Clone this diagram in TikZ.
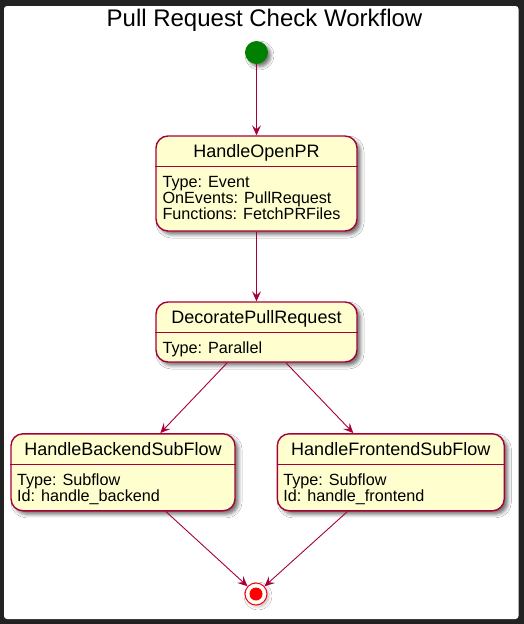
\documentclass[tikz,border=0pt]{standalone}
\usepackage{fontspec}
\setmainfont{Liberation Sans}
\usetikzlibrary{arrows.meta, shadows.blur}
\definecolor{umlred}{HTML}{A80036}
\definecolor{umlfill}{HTML}{FEFECE}
\definecolor{umlgreen}{HTML}{008000}
\definecolor{framegray}{RGB}{34,34,34}
\tikzstyle{state} = [rectangle, rounded corners=12pt, draw=umlred, line width=1.4pt, fill=umlfill, inner sep=0pt, blur shadow={shadow xshift=3.5pt, shadow yshift=-3.5pt, shadow blur radius=3.5pt, shadow opacity=55}]
\tikzstyle{statename} = [inner sep=0pt, anchor=base, font=\fontsize{18}{20}\selectfont]
\tikzstyle{statebody} = [inner sep=0pt, anchor=north west, align=left, font=\fontsize{16.2}{16}\selectfont]
\tikzstyle{sep} = [draw=umlred, line width=1.2pt]
\tikzstyle{arrow} = [draw=umlred, line width=0.9pt, -{Stealth[length=10pt, width=9pt, inset=4pt]}]

\begin{document}
\begin{tikzpicture}[x=1pt, y=-1pt]

\useasboundingbox (0,0) rectangle (524,624);
\fill[framegray] (0,0) rectangle (524,624);
\fill[white, rounded corners=3pt] (4,6) rectangle (518.5,619);

%% NODES

\node (title) [anchor=base, inner sep=0pt, font=\fontsize{24}{28}\selectfont] at (264.5,26) {Pull Request Check Workflow};

\node (start) [circle, fill=umlgreen, minimum size=23pt, inner sep=0pt, blur shadow={shadow xshift=3pt, shadow yshift=-3pt, shadow blur radius=3pt, shadow opacity=50}] at (256.5,52.5) {};

\node (open) [state, minimum width=201pt, minimum height=95pt] at (256.5,183.5) {};
\node (open_name) [statename] at ([yshift=-22pt]open.north) {HandleOpenPR};
\draw [sep] ([yshift=-31.5pt]open.north west) -- ([yshift=-31.5pt]open.north east);
\node (open_body) [statebody] at ([xshift=7pt, yshift=-40.5pt]open.north west) {Type: Event\\OnEvents: PullRequest\\Functions: FetchPRFiles};

\node (decorate) [state, minimum width=201pt, minimum height=60pt] at (256.5,332) {};
\node (decorate_name) [statename] at ([yshift=-22pt]decorate.north) {DecoratePullRequest};
\draw [sep] ([yshift=-31.5pt]decorate.north west) -- ([yshift=-31.5pt]decorate.north east);
\node (decorate_body) [statebody] at ([xshift=7pt, yshift=-40.5pt]decorate.north west) {Type: Parallel};

\node (backend) [state, minimum width=224pt, minimum height=77pt] at (123,472.3) {};
\node (backend_name) [statename] at ([yshift=-22pt]backend.north) {HandleBackendSubFlow};
\draw [sep] ([yshift=-31.5pt]backend.north west) -- ([yshift=-31.5pt]backend.north east);
\node (backend_body) [statebody] at ([xshift=6.5pt, yshift=-40.5pt]backend.north west) {Type: Subflow\\Id: handle\_backend};

\node (frontend) [state, minimum width=227pt, minimum height=77pt] at (390.8,472.3) {};
\node (frontend_name) [statename] at ([yshift=-22pt]frontend.north) {HandleFrontendSubFlow};
\draw [sep] ([yshift=-31.5pt]frontend.north west) -- ([yshift=-31.5pt]frontend.north east);
\node (frontend_body) [statebody] at ([xshift=6.5pt, yshift=-40.5pt]frontend.north west) {Type: Subflow\\Id: handle\_frontend};

\node (stop) [circle, draw=red, line width=1pt, fill=white, minimum size=22pt, inner sep=0pt, blur shadow={shadow xshift=2pt, shadow yshift=-2pt, shadow blur radius=3pt, shadow opacity=25}] at (256,594) {};
\node (stop_dot) [circle, fill=red, minimum size=13pt, inner sep=0pt] at (stop) {};

%% ARROWS

\draw [arrow] (start) -- (open);
\draw [arrow] (open) -- (decorate);
\draw [arrow] (decorate) -- (backend);
\draw [arrow] (decorate) -- (frontend);
\draw [arrow] (backend) -- (stop);
\draw [arrow] (frontend) -- (stop);

\end{tikzpicture}
\end{document}
